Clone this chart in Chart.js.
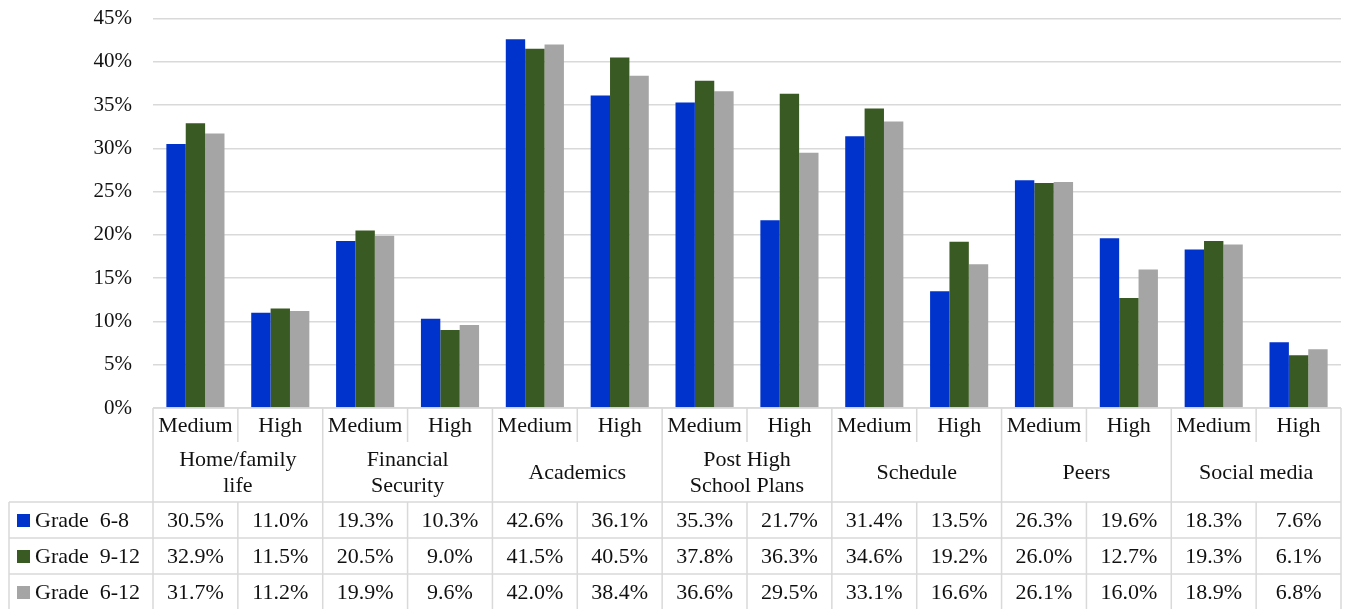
<!DOCTYPE html>
<html>
<head>
<meta charset="utf-8">
<script src="https://cdn.jsdelivr.net/npm/chart.js@4"></script>
<style>
  body { margin: 0; background: #fff; }
</style>
</head>
<body>
<canvas id="canvas" width="1349" height="609"></canvas>
<script>
const levels = ['Medium', 'High', 'Medium', 'High', 'Medium', 'High', 'Medium', 'High',
                'Medium', 'High', 'Medium', 'High', 'Medium', 'High'];
const groups = [['Home/family', 'life'], ['Financial', 'Security'], ['Academics'],
                ['Post High', 'School Plans'], ['Schedule'], ['Peers'], ['Social media']];
const seriesNames = ['Grade  6-8', 'Grade  9-12', 'Grade  6-12'];
const grade6to8 = [30.5, 11.0, 19.3, 10.3, 42.6, 36.1, 35.3, 21.7, 31.4, 13.5, 26.3, 19.6, 18.3, 7.6];
const grade9to12 = [32.9, 11.5, 20.5, 9.0, 41.5, 40.5, 37.8, 36.3, 34.6, 19.2, 26.0, 12.7, 19.3, 6.1];
const grade6to12 = [31.7, 11.2, 19.9, 9.6, 42.0, 38.4, 36.6, 29.5, 33.1, 16.6, 26.1, 16.0, 18.9, 6.8];
const colors = ['#0033cc', '#3a5a24', '#a5a5a5'];

const FONT = '"Liberation Serif", "Times New Roman", serif';
const lineCol = '#d9d9d9';

// draws the two level category axis and the data table under the plot
const tablePlugin = {
  id: 'dataTable',
  afterDraw(chart) {
    const ctx = chart.ctx;
    const area = chart.chartArea;
    const x = chart.scales.x;
    const n = levels.length;
    const w = (area.right - area.left) / n;
    const top = area.bottom;
    const rowLevel = top + 34;
    const rowGroup = top + 94;
    const rowH = 36;
    const bottom = 609 + 2;
    const tableLeft = 9;
    const data = [grade6to8, grade9to12, grade6to12];

    ctx.save();
    ctx.strokeStyle = lineCol;
    ctx.lineWidth = 1.5;
    ctx.beginPath();
    ctx.moveTo(area.left, top); ctx.lineTo(area.right, top);
    for (let r = 0; r < 3; r++) {
      const y = rowGroup + r * rowH;
      ctx.moveTo(tableLeft, y); ctx.lineTo(area.right, y);
    }
    ctx.moveTo(tableLeft, rowGroup); ctx.lineTo(tableLeft, bottom);
    for (let i = 0; i <= n; i++) {
      const bx = area.left + i * w;
      if (i % 2 === 0) {
        ctx.moveTo(bx, top); ctx.lineTo(bx, bottom);
      } else {
        ctx.moveTo(bx, top); ctx.lineTo(bx, rowLevel);
        ctx.moveTo(bx, rowGroup); ctx.lineTo(bx, bottom);
      }
    }
    ctx.stroke();

    ctx.fillStyle = '#111';
    ctx.font = '22px ' + FONT;
    ctx.textAlign = 'center';
    ctx.textBaseline = 'middle';
    levels.forEach((lab, i) => {
      ctx.fillText(lab, x.getPixelForValue(i), top + 18);
    });
    groups.forEach((g, j) => {
      const cx = (x.getPixelForValue(2 * j) + x.getPixelForValue(2 * j + 1)) / 2;
      const cy = (rowLevel + rowGroup) / 2 + 1;
      g.forEach((line, k) => {
        ctx.fillText(line, cx, cy + (k - (g.length - 1) / 2) * 26);
      });
    });
    data.forEach((vals, r) => {
      const cy = rowGroup + r * rowH + rowH / 2 + 1;
      vals.forEach((v, i) => {
        ctx.fillText(v.toFixed(1) + '%', x.getPixelForValue(i), cy);
      });
      ctx.fillStyle = colors[r];
      ctx.fillRect(17, cy - 7, 13, 13);
      ctx.fillStyle = '#111';
      ctx.textAlign = 'left';
      ctx.fillText(seriesNames[r], 35, cy);
      ctx.textAlign = 'center';
    });
    ctx.restore();
  }
};

const ctx = document.getElementById('canvas').getContext('2d');
new Chart(ctx, {
  type: 'bar',
  data: {
    labels: levels,
    datasets: [
      { label: seriesNames[0], data: grade6to8, backgroundColor: colors[0] },
      { label: seriesNames[1], data: grade9to12, backgroundColor: colors[1] },
      { label: seriesNames[2], data: grade6to12, backgroundColor: colors[2] }
    ]
  },
  options: {
    responsive: false,
    animation: false,
    layout: { padding: { top: 18.5, right: 8, bottom: 201, left: 0 } },
    datasets: { bar: { barPercentage: 1, categoryPercentage: 0.685 } },
    plugins: { legend: { display: false }, tooltip: { enabled: false } },
    scales: {
      x: { display: false },
      y: {
        min: 0, max: 45,
        afterFit(scale) {
          scale.width = 153;
          scale.paddingTop = 0;
          scale.paddingBottom = 0;
        },
        border: { display: false },
        grid: { color: lineCol, lineWidth: 1.5, drawTicks: false },
        ticks: {
          stepSize: 5, padding: 21, color: '#111',
          font: { family: FONT, size: 21 },
          callback: v => v + '%'
        }
      }
    }
  },
  plugins: [tablePlugin]
});
</script>
</body>
</html>
